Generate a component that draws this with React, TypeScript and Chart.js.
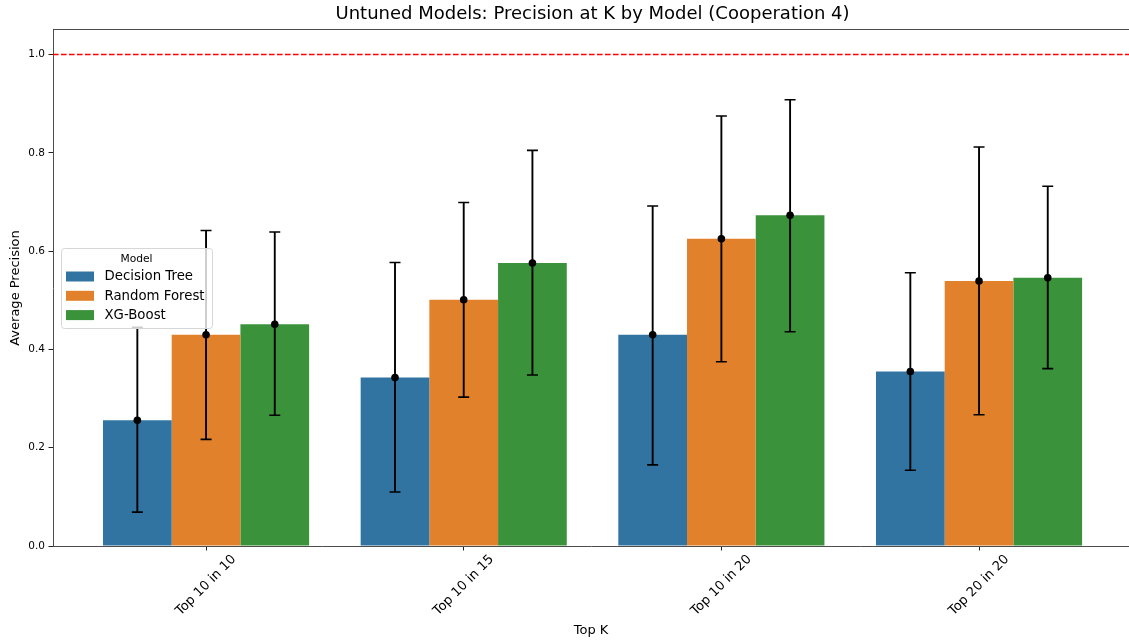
import React, { useEffect, useRef } from 'react';
import { Chart, registerables } from 'chart.js';

Chart.register(...registerables);

const chartTitle = 'Untuned Models: Precision at K by Model (Cooperation 4)';
const categories = ['Top 10 in 10', 'Top 10 in 15', 'Top 10 in 20', 'Top 20 in 20'];
const models = ['Decision Tree', 'Random Forest', 'XG-Boost'];

const decisionTree = [0.256, 0.343, 0.430, 0.355];
const decisionTreeLow = [0.069, 0.110, 0.165, 0.154];
const decisionTreeHigh = [0.445, 0.577, 0.692, 0.556];

const randomForest = [0.430, 0.501, 0.625, 0.539];
const randomForestLow = [0.217, 0.303, 0.375, 0.267];
const randomForestHigh = [0.642, 0.699, 0.875, 0.812];

const xgBoost = [0.451, 0.576, 0.673, 0.546];
const xgBoostLow = [0.266, 0.348, 0.436, 0.361];
const xgBoostHigh = [0.639, 0.805, 0.908, 0.732];

const yTicks = [0, 0.2, 0.4, 0.6, 0.8, 1.0];
const referenceLine = 1.0;

const colors = ['#3274a1', '#e1812c', '#3a923a'];
const FONT = "'DejaVu Sans', 'Liberation Sans', sans-serif";

const series = [
  { values: decisionTree, low: decisionTreeLow, high: decisionTreeHigh },
  { values: randomForest, low: randomForestLow, high: randomForestHigh },
  { values: xgBoost, low: xgBoostLow, high: xgBoostHigh },
];

const overlay = {
  id: 'overlay',
  afterDatasetsDraw(chart: any) {
    const { ctx, chartArea: a, scales } = chart;
    const ys = scales.y;
    ctx.save();
    // error bars and mean markers
    series.forEach((s, j) => {
      const meta = chart.getDatasetMeta(j);
      meta.data.forEach((bar: any, i: number) => {
        const x = bar.x;
        const yLo = ys.getPixelForValue(s.low[i]);
        const yHi = ys.getPixelForValue(s.high[i]);
        ctx.strokeStyle = '#000';
        ctx.lineWidth = 1.9;
        ctx.beginPath();
        ctx.moveTo(x, yLo);
        ctx.lineTo(x, yHi);
        ctx.stroke();
        ctx.lineWidth = 1.6;
        ctx.beginPath();
        ctx.moveTo(x - 5.5, yLo);
        ctx.lineTo(x + 5.5, yLo);
        ctx.moveTo(x - 5.5, yHi);
        ctx.lineTo(x + 5.5, yHi);
        ctx.stroke();
        ctx.fillStyle = '#000';
        ctx.beginPath();
        ctx.arc(x, ys.getPixelForValue(s.values[i]), 3.8, 0, Math.PI * 2);
        ctx.fill();
      });
    });
    // reference line
    const yr = ys.getPixelForValue(referenceLine);
    ctx.strokeStyle = '#ff0000';
    ctx.lineWidth = 1.6;
    ctx.setLineDash([5.6, 2.4]);
    ctx.beginPath();
    ctx.moveTo(a.left, yr);
    ctx.lineTo(a.right, yr);
    ctx.stroke();
    ctx.setLineDash([]);
    ctx.restore();
  },
  afterDraw(chart: any) {
    const { ctx, chartArea: a, scales } = chart;
    const xs = scales.x;
    ctx.save();
    // top spine
    ctx.strokeStyle = '#4d4d4d';
    ctx.lineWidth = 1;
    ctx.beginPath();
    ctx.moveTo(a.left, a.top - 0.5);
    ctx.lineTo(a.right, a.top - 0.5);
    ctx.stroke();

    // title centred on the axes
    ctx.fillStyle = '#000';
    ctx.font = `18px ${FONT}`;
    ctx.textAlign = 'center';
    ctx.textBaseline = 'middle';
    const midX = (xs.getPixelForValue(0) + xs.getPixelForValue(categories.length - 1)) / 2;
    ctx.fillText(chartTitle, midX, 14.5);

    // rotated x tick labels, centred under ticks
    ctx.font = `13px ${FONT}`;
    categories.forEach((label, i) => {
      const x = xs.getPixelForValue(i);
      const w = ctx.measureText(label).width;
      const half = ((w + 13 * 1.17) * Math.SQRT1_2) / 2;
      ctx.save();
      ctx.translate(x, a.bottom + 6 + half);
      ctx.rotate(-Math.PI / 4);
      ctx.textAlign = 'center';
      ctx.textBaseline = 'middle';
      ctx.fillText(label, 0, 0);
      ctx.restore();
    });

    // legend
    const lw = 151;
    const lh = 80;
    const lx = a.left + 8;
    const ly = (a.top + a.bottom) / 2 - lh / 2;
    ctx.beginPath();
    if ((ctx as any).roundRect) {
      (ctx as any).roundRect(lx + 0.5, ly + 0.5, lw, lh, 3);
    } else {
      ctx.rect(lx + 0.5, ly + 0.5, lw, lh);
    }
    ctx.fillStyle = 'rgba(255,255,255,0.8)';
    ctx.fill();
    ctx.strokeStyle = '#d6d6d6';
    ctx.lineWidth = 1;
    ctx.stroke();
    ctx.fillStyle = '#000';
    ctx.font = `10.7px ${FONT}`;
    ctx.textAlign = 'center';
    ctx.textBaseline = 'middle';
    ctx.fillText('Model', lx + lw / 2, ly + 11);
    ctx.font = `13.3px ${FONT}`;
    ctx.textAlign = 'left';
    models.forEach((m, k) => {
      const cy = ly + 28.5 + k * 19.3;
      ctx.fillStyle = colors[k];
      ctx.fillRect(lx + 5, cy - 5, 28, 10);
      ctx.fillStyle = '#000';
      ctx.fillText(m, lx + 43.5, cy + 0.5);
    });
    ctx.restore();
  },
};

export default function App() {
  const canvasRef = useRef<HTMLCanvasElement | null>(null);

  useEffect(() => {
    const canvas = canvasRef.current;
    if (!canvas) return;
    const chart = new Chart(canvas, {
      type: 'bar',
      data: {
        datasets: series.map((s, j) => ({
          label: models[j],
          data: s.values.map((v, i) => ({ x: i, y: v })),
          backgroundColor: colors[j],
          borderWidth: 0,
          categoryPercentage: 0.8,
          barPercentage: 1.0,
        })),
      },
      options: {
        animation: false,
        responsive: false,
        devicePixelRatio: 1,
        layout: { padding: { top: 30, left: 0, right: 0, bottom: 0 } },
        plugins: {
          legend: { display: false },
          tooltip: { enabled: false },
          title: { display: false },
        },
        scales: {
          x: {
            type: 'linear',
            offset: false,
            min: -0.594,
            max: 3.582,
            afterBuildTicks: (scale: any) => {
              scale.ticks = categories.map((_, i) => ({ value: i }));
            },
            ticks: { display: false },
            grid: {
              display: true,
              offset: false,
              drawOnChartArea: false,
              drawTicks: true,
              tickLength: 4.5,
              color: '#222',
              lineWidth: 1,
            },
            border: { display: true, color: '#4d4d4d', width: 1 },
            title: {
              display: true,
              text: 'Top K',
              color: '#000',
              font: { family: FONT, size: 13 },
              padding: { top: 0, bottom: 4.2 },
            },
            afterFit: (scale: any) => {
              scale.height = 97;
            },
          },
          y: {
            type: 'linear',
            min: 0,
            max: 1.05,
            afterBuildTicks: (scale: any) => {
              scale.ticks = yTicks.map((v) => ({ value: v }));
            },
            ticks: {
              color: '#000',
              font: { family: FONT, size: 10.5 },
              padding: 3.5,
              callback: (v: any) => Number(v).toFixed(1),
            },
            grid: {
              display: true,
              drawOnChartArea: false,
              drawTicks: true,
              tickLength: 4.5,
              color: '#222',
              lineWidth: 1,
            },
            border: { display: true, color: '#4d4d4d', width: 1 },
            title: {
              display: true,
              text: 'Average Precision',
              color: '#000',
              font: { family: FONT, size: 13 },
              padding: { top: 8.2, bottom: 0 },
            },
            afterFit: (scale: any) => {
              scale.width = 53;
            },
          },
        },
      },
      plugins: [overlay],
    });
    return () => chart.destroy();
  }, []);

  return (
    <div style={{ position: 'absolute', left: 0, top: 0, width: 1129, height: 643, background: '#fff' }}>
      <canvas ref={canvasRef} width={1129} height={643} style={{ display: 'block' }} />
    </div>
  );
}
